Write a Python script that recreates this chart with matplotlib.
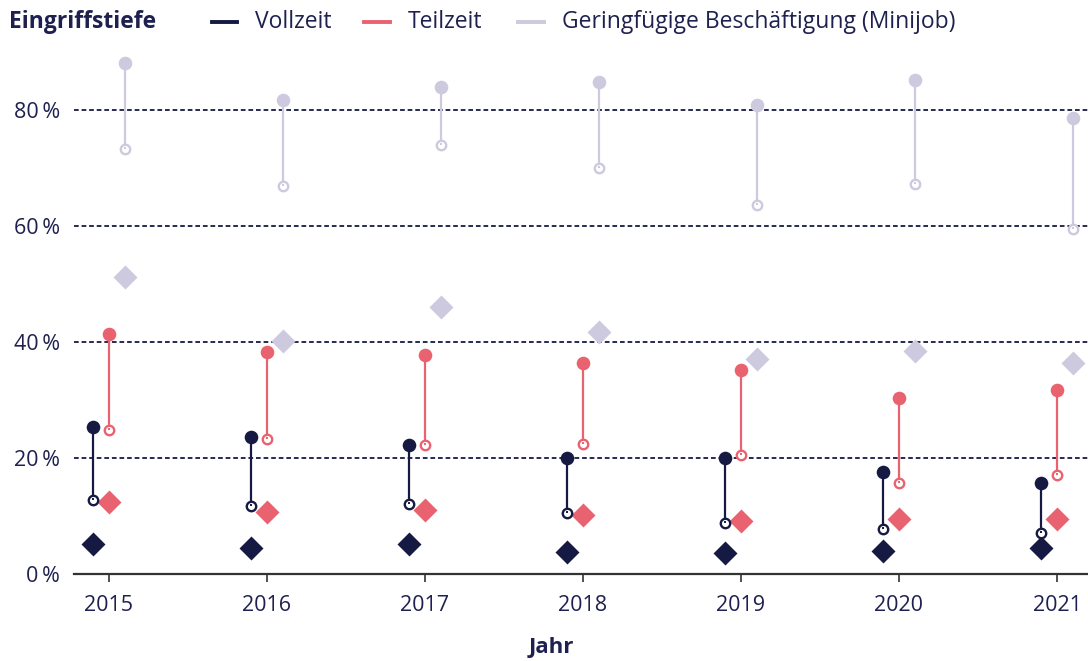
import matplotlib
matplotlib.use("Agg")
import matplotlib.pyplot as plt
from matplotlib.lines import Line2D

plt.rcParams['font.family'] = ['Open Sans', 'DejaVu Sans']

years = [2015, 2016, 2017, 2018, 2019, 2020, 2021]
vz_high = [25.4, 23.7, 22.3, 20.1, 20.1, 17.6, 15.7]
vz_low = [12.8, 11.7, 12.2, 10.5, 8.9, 7.8, 7.2]
vz_diamond = [5.2, 4.5, 5.3, 3.9, 3.7, 4.1, 4.5]
tz_high = [41.4, 38.3, 37.8, 36.4, 35.3, 30.4, 31.8]
tz_low = [24.9, 23.3, 22.3, 22.4, 20.5, 15.8, 17.1]
tz_diamond = [12.5, 10.7, 11.1, 10.3, 9.2, 9.5, 9.5]
mj_high = [88.2, 81.8, 84.0, 84.8, 80.9, 85.3, 78.7]
mj_low = [73.4, 67.0, 74.0, 70.1, 63.6, 67.3, 59.5]
mj_diamond = [51.3, 40.2, 46.1, 41.7, 37.1, 38.5, 36.4]
yticks = [0, 20, 40, 60, 80]
ytick_labels = ["0\u2009%", "20\u2009%", "40\u2009%", "60\u2009%", "80\u2009%"]
series_names = ["Vollzeit", "Teilzeit", "Geringfügige Beschäftigung (Minijob)"]

NAVY = "#161a43"
PINK = "#e9626f"
LAV = "#cdc9de"
TEXT = "#1e2150"

W, H = 1088, 661
fig = plt.figure(figsize=(W / 100, H / 100), dpi=100)
ax_left, ax_right = 74 / W, 1.0
ax_bottom = (H - 574.3) / H
ax_top = (H - 52.3) / H
ax = fig.add_axes([ax_left, ax_bottom, ax_right - ax_left, ax_top - ax_bottom])
ax.set_xlim(2014.78, 2021.196)
ax.set_ylim(0, 90)

for yv in yticks[1:]:
    ax.axhline(yv, color=NAVY, lw=1.3, ls=(0, (2.6, 1.6)), zorder=1)

series = [
    (vz_high, vz_low, vz_diamond, NAVY, -0.1),
    (tz_high, tz_low, tz_diamond, PINK, 0.0),
    (mj_high, mj_low, mj_diamond, LAV, 0.1),
]
for hi, lo, dm, col, off in series:
    xs = [y + off for y in years]
    ax.plot(xs, dm, ls="none", marker="D", ms=12.3, color=col, mec="none", zorder=2)
for hi, lo, dm, col, off in series:
    xs = [y + off for y in years]
    ax.vlines(xs, lo, hi, color=col, lw=1.6, zorder=3)
    ax.plot(xs, hi, ls="none", marker="o", ms=9.8, color=col, mec="none", zorder=4)
    ax.plot(xs, lo, ls="none", marker="o", ms=6.8, mfc="white", mec=col, mew=1.7, zorder=4)
    # inner stem end visible through the open circle
    ax.vlines(xs, lo, [l + 0.35 for l in lo], color=col, lw=1.4, zorder=5)

for s in ["top", "right", "left"]:
    ax.spines[s].set_visible(False)
ax.spines["bottom"].set_color("#333333")
ax.spines["bottom"].set_linewidth(1.6)
ax.spines["bottom"].set_zorder(6)

ax.set_xticks(years)
ax.set_xticklabels([str(y) for y in years])
ax.set_yticks(yticks)
ax.set_yticklabels(ytick_labels)
ax.tick_params(axis="x", length=6, width=1.2, color="#333333", pad=9,
               labelsize=15.5, labelcolor=TEXT)
ax.tick_params(axis="y", length=0, pad=10, labelsize=15.5, labelcolor=TEXT)

fig.text(551 / W, (H - 648) / H, "Jahr", ha="center", va="center",
         fontsize=16, fontweight="bold", color=TEXT)
fig.text(9 / W, (H - 22.5) / H, "Eingriffstiefe", ha="left", va="center",
         fontsize=16.5, fontweight="bold", color=TEXT)

leg = [(212, 237, 255, NAVY), (364, 390, 408, PINK), (518, 544, 562, LAV)]
ly = (H - 21.5) / H
for (x0, x1, tx, col), name in zip(leg, series_names):
    fig.add_artist(Line2D([x0 / W, x1 / W], [ly, ly], color=col, lw=2.8,
                          transform=fig.transFigure))
    fig.text(tx / W, (H - 22.5) / H, name, ha="left", va="center",
             fontsize=16.5, color=TEXT)

fig.savefig("out.png", dpi=100)
